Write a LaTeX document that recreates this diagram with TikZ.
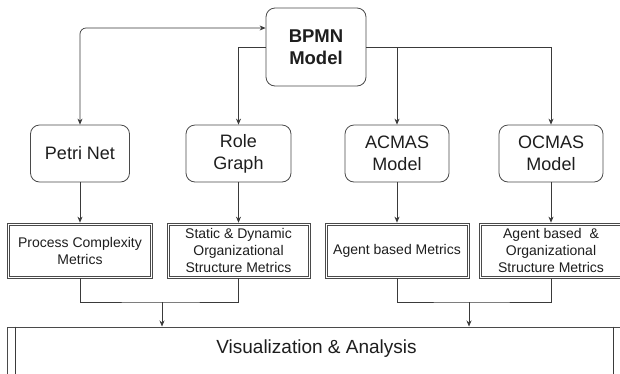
\documentclass[tikz,border=0pt]{standalone}
\usepackage{fontspec}
\setmainfont{Liberation Sans}
\usetikzlibrary{arrows.meta,calc}
\definecolor{ln}{HTML}{3A3A3A}
\definecolor{bx}{HTML}{4A4A4A}
\definecolor{tx}{HTML}{1E1E1E}
\tikzset{
  model/.style={draw=bx, line width=0.8pt, rounded corners=9pt, minimum height=57pt,
    align=center, text=tx, font=\fontsize{18}{22}\selectfont, inner sep=0pt},
  metric/.style={draw=bx, line width=0.7pt,
    minimum height=55pt, align=center, text=tx, font=\fontsize{14}{17}\selectfont, inner sep=0pt},
  inner/.style={draw=bx, line width=0.6pt},
  conn/.style={draw=ln, line width=0.7pt},
  arr/.style={conn, -{Stealth[length=6pt,width=5pt]}},
}
\begin{document}
\begin{tikzpicture}[x=1pt,y=-1pt]
\useasboundingbox (0,0) rectangle (620,373);
\clip (0,0) rectangle (620,373);
\fill[white] (0,0) rectangle (620,373);
% top
\node[model, minimum width=100pt, minimum height=78pt, font=\bfseries\fontsize{18.5}{22}\selectfont] (bpmn) at (316,47) {BPMN\\Model};
% models
\node[model, minimum width=99pt] (petri) at (80,153.5) {Petri Net};
\node[model, minimum width=105pt] (role) at (238.5,153.5) {Role\\Graph};
\node[model, minimum width=104pt] (acmas) at (397,153.5) {ACMAS\\Model};
\node[model, minimum width=104pt] (ocmas) at (551,153.5) {OCMAS\\Model};
% metrics
\node[metric, minimum width=145pt] (m1) at (80,250.5) {Process Complexity\\Metrics};
\node[metric, minimum width=143pt] (m2) at (238.5,250.5) {Static \& Dynamic\\Organizational\\Structure Metrics};
\node[metric, minimum width=144pt] (m3) at (397,250.5) {Agent based Metrics};
\node[metric, minimum width=144pt] (m4) at (551,250.5) {Agent based\ \ \&\\Organizational\\Structure Metrics};
\foreach \m in {m1,m2,m3,m4}
  \draw[inner] ([shift={(2.4pt,-2.4pt)}]\m.north west) rectangle ([shift={(-2.4pt,2.4pt)}]\m.south east);
% visualization
\node[draw=bx, line width=0.8pt, minimum width=615pt, minimum height=70pt, inner sep=0pt, anchor=north] (vis) at (314.5,326.5) {};
\draw[conn] ([xshift=9pt]vis.north west) -- ([xshift=9pt]vis.south west);
\draw[conn] ([xshift=-9pt]vis.north east) -- ([xshift=-9pt]vis.south east);
\node[text=tx, font=\fontsize{19}{22}\selectfont, inner sep=0pt] (vistext) at (316.5,349) {Visualization \& Analysis};
% connectors from BPMN
\draw[conn, {Stealth[length=6pt,width=5pt]}-{Stealth[length=6pt,width=5pt]}, rounded corners=6pt]
  ([yshift=19pt]bpmn.west) -| (petri.north);
\draw[arr] (bpmn.west) -| (role.north);
\draw[arr] (bpmn.east) -| (acmas.north);
\draw[arr] (bpmn.east) -| (ocmas.north);
% models to metrics
\draw[arr] (petri.south) -- (m1.north);
\draw[arr] (role.south) -- (m2.north);
\draw[arr] (acmas.south) -- (m3.north);
\draw[arr] (ocmas.south) -- (m4.north);
% merges
\coordinate (j1) at (162,302);
\coordinate (j2) at (469,302);
\draw[conn] (m1.south) |- (j1) -| (m2.south);
\draw[arr] (j1) -- (j1 |- vis.north);
\draw[conn] (m3.south) |- (j2) -| (m4.south);
\draw[arr] (j2) -- (j2 |- vis.north);
\end{tikzpicture}
\end{document}
